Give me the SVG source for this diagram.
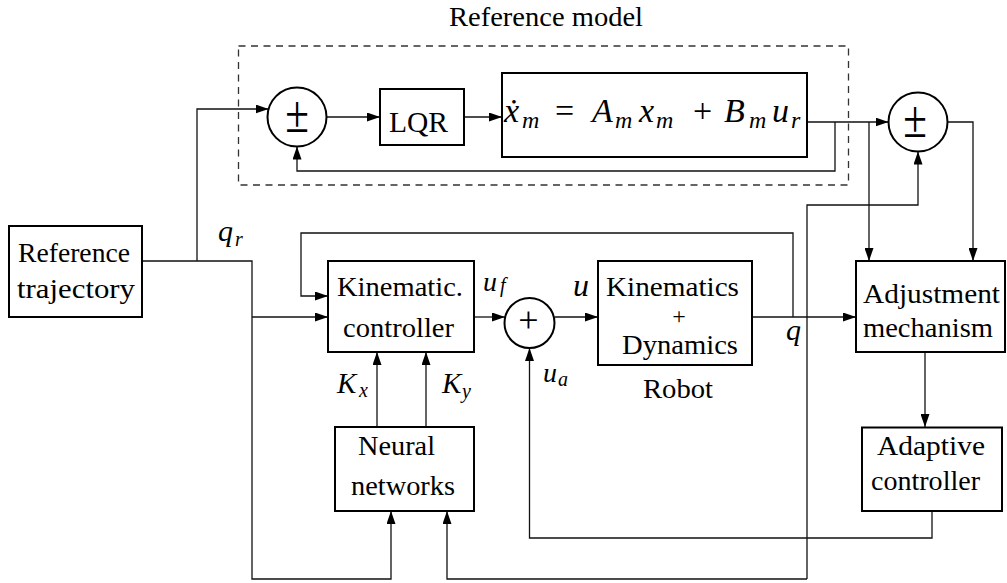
<svg xmlns="http://www.w3.org/2000/svg" width="1007" height="583" viewBox="0 0 1007 583" font-family="'Liberation Serif', 'Times New Roman', 'DejaVu Serif', 'Noto Serif', serif">
  <style>
    .box { fill: #fff; stroke: #000; stroke-width: 2; }
    .sum { fill: #fff; stroke: #000; stroke-width: 2; }
    .wire { fill: none; stroke: #111; stroke-width: 1.3; }
    .arr { marker-end: url(#ah); }
    .dash { fill: none; stroke: #333; stroke-width: 1.3; stroke-dasharray: 7 5.5; }
    text { font-family: 'Liberation Serif', 'Times New Roman', 'DejaVu Serif', 'Noto Serif', serif; fill: #000; }
    .t { font-size: 28px; }
    .m { font-style: italic; }
    .sub { font-size: 20px; font-style: italic; }
  </style>
  <defs>
    <marker id="ah" markerUnits="userSpaceOnUse" markerWidth="13" markerHeight="9" refX="13" refY="4.5" orient="auto">
      <path d="M0,0 L13,4.5 L0,9 z" fill="#000"/>
    </marker>
  </defs>

  <rect width="1007" height="583" fill="#fff"/>

  <!-- reference model frame -->
  <g id="reference-model">
    <rect class="dash" x="238.5" y="46" width="610" height="139"/>
    <text x="449" y="26" font-size="27" textLength="194" lengthAdjust="spacingAndGlyphs">Reference model</text>
  </g>

  <!-- signal lines -->
  <g id="connectors">
    <path class="wire arr" d="M142,261 H252 V579 H391 V511"/>
    <path class="wire arr" d="M197,261 V109 H268.6"/>
    <path class="wire arr" d="M252,317 H328"/>
    <path class="wire arr" d="M326.5,117 H380"/>
    <path class="wire arr" d="M464,117 H502"/>
    <path class="wire arr" d="M807,122 H888.5"/>
    <path class="wire arr" d="M835,122 V171 H297 V146.5"/>
    <path class="wire arr" d="M869,122 V261"/>
    <path class="wire arr" d="M947.5,122 H973 V261"/>
    <path class="wire arr" d="M752,317 H856"/>
    <path class="wire arr" d="M793,317 V233 H301 V296 H328"/>
    <path class="wire arr" d="M474,317 H505"/>
    <path class="wire arr" d="M554.5,317 H598"/>
    <path class="wire arr" d="M932,511 V538 H529.5 V348"/>
    <path class="wire arr" d="M377,427 V352"/>
    <path class="wire arr" d="M426,427 V352"/>
    <path class="wire arr" d="M807,579 V205 H918 V151.5"/>
    <path class="wire arr" d="M807,579 H447 V511"/>
    <path class="wire arr" d="M925,352 V427"/>
  </g>

  <g id="reference-trajectory">
    <rect class="box" x="9" y="226" width="133" height="91"/>
    <text class="t" x="18" y="262" textLength="112" lengthAdjust="spacingAndGlyphs">Reference</text>
    <text class="t" x="17" y="298" textLength="118" lengthAdjust="spacingAndGlyphs">trajectory</text>
  </g>

  <g id="qr-label">
    <text class="m" x="218" y="241" font-size="30">q</text>
    <text class="sub" x="235" y="246">r</text>
  </g>

  <g id="sum-reference">
    <circle class="sum" cx="297" cy="117" r="29.5"/>
    <text transform="translate(297,132) scale(1.2,1.45)" text-anchor="middle" font-size="36" font-weight="300">±</text>
  </g>

  <g id="lqr">
    <rect class="box" x="380" y="89" width="84" height="56"/>
    <text x="389" y="132" font-size="29" textLength="59" lengthAdjust="spacingAndGlyphs">LQR</text>
  </g>

  <g id="reference-dynamics">
    <rect class="box" x="502" y="73" width="305" height="84" stroke-width="2.5"/>
    <text font-size="34">
      <tspan class="m" x="504" y="122">ẋ</tspan>
      <tspan class="m" x="522" y="128" font-size="24">m</tspan>
      <tspan x="555" y="122">=</tspan>
      <tspan class="m" x="592" y="122">A</tspan>
      <tspan class="m" x="615" y="128" font-size="24">m</tspan>
      <tspan class="m" x="639" y="122">x</tspan>
      <tspan class="m" x="656" y="128" font-size="24">m</tspan>
      <tspan x="693" y="122">+</tspan>
      <tspan class="m" x="724" y="122">B</tspan>
      <tspan class="m" x="749" y="128" font-size="24">m</tspan>
      <tspan class="m" x="772" y="122">u</tspan>
      <tspan class="m" x="791" y="128" font-size="24">r</tspan>
    </text>
  </g>

  <g id="sum-error">
    <circle class="sum" cx="918" cy="122" r="29.5"/>
    <text transform="translate(915,137) scale(1.2,1.45)" text-anchor="middle" font-size="36" font-weight="300">±</text>
  </g>

  <g id="kinematic-controller">
    <rect class="box" x="328" y="261" width="146" height="91"/>
    <text class="t" x="337" y="296" textLength="126" lengthAdjust="spacingAndGlyphs">Kinematic.</text>
    <text class="t" x="343" y="337" textLength="111" lengthAdjust="spacingAndGlyphs">controller</text>
  </g>

  <g id="uf-label">
    <text class="m" x="483" y="291" font-size="28">u</text>
    <text class="sub" x="500" y="292">f</text>
  </g>

  <g id="sum-control">
    <circle class="sum" cx="529.5" cy="323" r="25"/>
    <text x="528.5" y="332" text-anchor="middle" font-size="36" font-weight="300">+</text>
  </g>

  <g id="u-label">
    <text class="m" x="573" y="296" font-size="32">u</text>
  </g>

  <g id="ua-label">
    <text class="m" x="543" y="382" font-size="28">u</text>
    <text class="sub" x="558" y="386">a</text>
  </g>

  <g id="robot">
    <rect class="box" x="598" y="261" width="154" height="104"/>
    <text class="t" x="606" y="296" textLength="133" lengthAdjust="spacingAndGlyphs">Kinematics</text>
    <text x="679" y="323.5" text-anchor="middle" font-size="24" fill="#000">+</text>
    <text class="t" x="622" y="354" textLength="116" lengthAdjust="spacingAndGlyphs">Dynamics</text>
    <text class="t" x="643" y="398" textLength="70" lengthAdjust="spacingAndGlyphs">Robot</text>
  </g>

  <g id="q-label">
    <text class="m" x="786" y="340" font-size="30">q</text>
  </g>

  <g id="gain-labels">
    <text class="m" x="337" y="393" font-size="29">K</text>
    <text class="sub" x="359" y="397">x</text>
    <text class="m" x="442" y="393" font-size="29">K</text>
    <text class="sub" x="462" y="398">y</text>
  </g>

  <g id="neural-networks">
    <rect class="box" x="335" y="427" width="139" height="84"/>
    <text class="t" x="358" y="455" textLength="77" lengthAdjust="spacingAndGlyphs">Neural</text>
    <text class="t" x="351" y="495" textLength="104" lengthAdjust="spacingAndGlyphs">networks</text>
  </g>

  <g id="adjustment-mechanism">
    <rect class="box" x="856" y="261" width="149" height="91"/>
    <text class="t" x="863" y="303" textLength="137" lengthAdjust="spacingAndGlyphs">Adjustment</text>
    <text class="t" x="863" y="337" textLength="130" lengthAdjust="spacingAndGlyphs">mechanism</text>
  </g>

  <g id="adaptive-controller">
    <rect class="box" x="862" y="427.5" width="140" height="83.5" stroke-width="1.5"/>
    <text class="t" x="877" y="455" textLength="108" lengthAdjust="spacingAndGlyphs">Adaptive</text>
    <text class="t" x="871" y="490" textLength="109" lengthAdjust="spacingAndGlyphs">controller</text>
  </g>
</svg>
